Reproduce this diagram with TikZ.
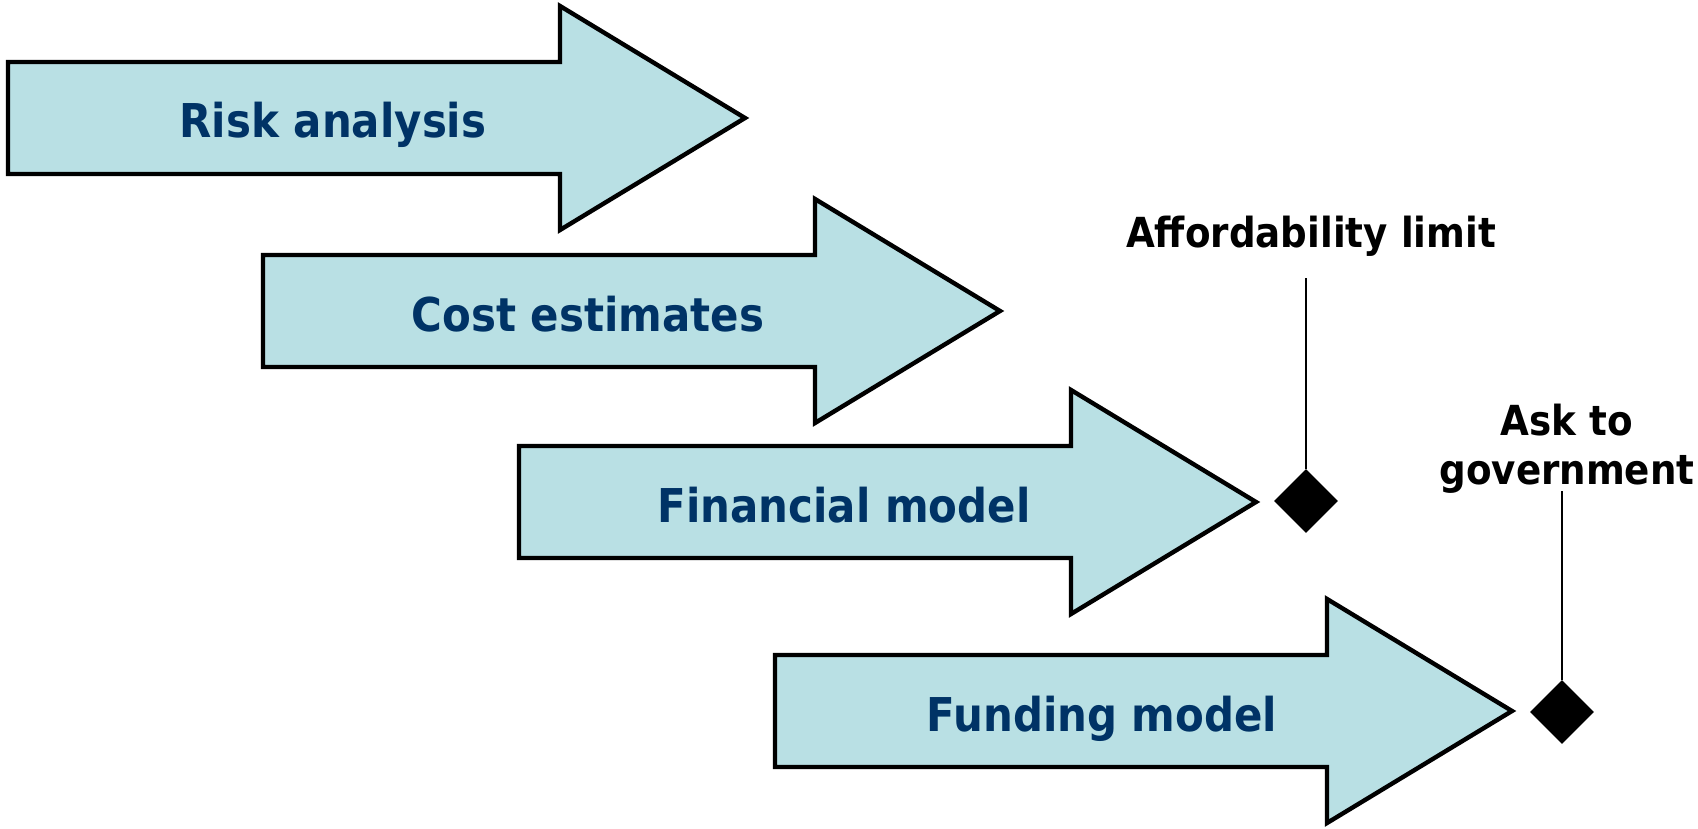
\documentclass[tikz,border=0pt]{standalone}
\usepackage{fontspec}
\usetikzlibrary{shapes.geometric}
\newfontfamily\stagefont[FakeStretch=0.9]{DejaVu Sans}
\definecolor{stagefill}{HTML}{B9E0E4}
\definecolor{stageblue}{HTML}{003366}

\tikzset{
  stage/.style={draw=black,fill=stagefill,line width=2.2pt},
  stagelabel/.style={anchor=base,inner sep=0pt,text=stageblue,
    font=\stagefont\bfseries\fontsize{23.3pt}{28pt}\selectfont},
  milestone/.style={diamond,fill=black,inner sep=0pt,minimum size=32pt},
  milelabel/.style={inner sep=0pt,align=center,
    font=\stagefont\bfseries\fontsize{20.7pt}{24.5pt}\selectfont}
}

\begin{document}
\begin{tikzpicture}[x=0.5pt,y=-0.5pt]
        \useasboundingbox (0,0) rectangle (1698,829);

        % the four stages
        \draw[stage](8,62)--(560,62)--(560,6)--(745,118)--(560,230)--(560,174)--(8,174)--cycle;
        \node[stagelabel](risk)at(333,138){Risk analysis};

        \draw[stage](263,255)--(815,255)--(815,199)--(1000,311)--(815,423)--(815,367)--(263,367)--cycle;
        \node[stagelabel](cost)at(588,331){Cost estimates};

        \draw[stage](519,446)--(1071,446)--(1071,390)--(1256,502)--(1071,614)--(1071,558)--(519,558)--cycle;
        \node[stagelabel](finance)at(844,522){Financial model};

        \draw[stage](775,655)--(1327,655)--(1327,599)--(1512,711)--(1327,823)--(1327,767)--(775,767)--cycle;
        \node[stagelabel](funding)at(1102,731){Funding model};

        % milestones
        \node[milestone](afford)at(1306,501){};
        \node[milelabel,anchor=base](affordlbl)at(1311,247){Affordability limit};
        \coordinate(affordtop)at(1306,278);
        \draw[line width=0.7pt](afford.north)--(affordtop);

        \node[milestone](ask)at(1562,712){};
        \node[milelabel,anchor=south](asklbl)at(1567,494){Ask to\\government};
        \coordinate(asktop)at(1562,491);
        \draw[line width=0.7pt](ask.north)--(asktop);
\end{tikzpicture}
\end{document}
